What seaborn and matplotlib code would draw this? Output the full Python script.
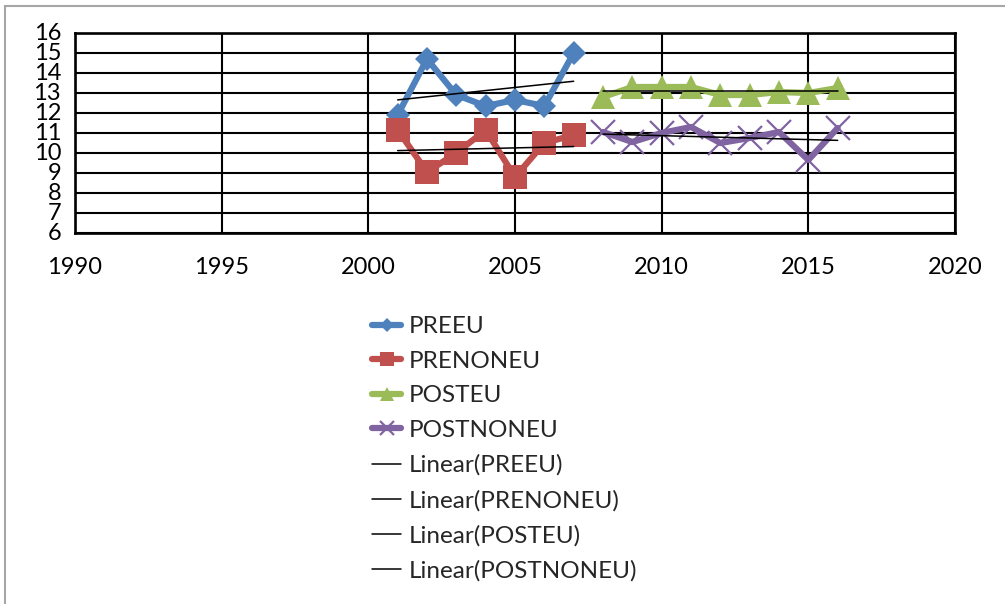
import matplotlib
matplotlib.use("Agg")
import matplotlib.pyplot as plt
import seaborn as sns
import pandas as pd
from matplotlib.lines import Line2D

# Yearly values per group
pre_years = [2001, 2002, 2003, 2004, 2005, 2006, 2007]
post_years = [2008, 2009, 2010, 2011, 2012, 2013, 2014, 2015, 2016]

preeu = [11.9, 14.7, 12.9, 12.35, 12.65, 12.35, 15.0]
prenoneu = [11.15, 9.05, 10.0, 11.15, 8.8, 10.5, 10.9]
posteu = [12.8, 13.3, 13.3, 13.3, 12.9, 12.9, 13.05, 13.0, 13.25]
postnoneu = [11.05, 10.55, 11.0, 11.3, 10.5, 10.75, 11.05, 9.65, 11.25]

series_names = ["PREEU", "PRENONEU", "POSTEU", "POSTNONEU"]
x_ticks = [1990, 1995, 2000, 2005, 2010, 2015, 2020]
y_ticks = list(range(6, 17))

sns.set_theme(style="white")
plt.rcParams["font.family"] = ["Lato", "DejaVu Sans"]

frames = {
    "PREEU": pd.DataFrame({"year": pre_years, "value": preeu}),
    "PRENONEU": pd.DataFrame({"year": pre_years, "value": prenoneu}),
    "POSTEU": pd.DataFrame({"year": post_years, "value": posteu}),
    "POSTNONEU": pd.DataFrame({"year": post_years, "value": postnoneu}),
}

styles = {
    "PREEU": dict(color="#4F81BD", marker="D", markersize=12.5),
    "PRENONEU": dict(color="#C0504D", marker="s", markersize=17),
    "POSTEU": dict(color="#9BBB59", marker="^", markersize=17),
    "POSTNONEU": dict(color="#8064A2", marker="x", markersize=17,
                      markeredgewidth=1.6),
}

fig = plt.figure(figsize=(10.05, 6.04), dpi=100)
ax = fig.add_axes([75 / 1005, 1 - 233 / 604, 880 / 1005, 200 / 604])

for name in series_names:
    st = styles[name]
    sns.lineplot(data=frames[name], x="year", y="value", ax=ax, label=name,
                 color=st["color"], marker=st["marker"],
                 markersize=st["markersize"],
                 markeredgewidth=st.get("markeredgewidth", 0),
                 markeredgecolor=st["color"], linewidth=4.5, zorder=3)

for name in series_names:
    sns.regplot(data=frames[name], x="year", y="value", ax=ax, scatter=False,
                ci=None, truncate=True, label=f"Linear({name})",
                line_kws=dict(color="black", linewidth=1.1, zorder=4))

ax.set_xlim(1990, 2020)
ax.set_ylim(6, 16)
ax.set_xticks(x_ticks)
ax.set_yticks(y_ticks)
ax.set_xlabel("")
ax.set_ylabel("")
ax.grid(True, color="black", linewidth=1.5)
ax.set_axisbelow(True)
for sp in ax.spines.values():
    sp.set_color("black")
    sp.set_linewidth(1.9)
ax.tick_params(axis="both", length=0, labelsize=17, colors="black")
ax.tick_params(axis="x", pad=17)
ax.tick_params(axis="y", pad=10)
for lbl in ax.get_yticklabels():
    lbl.set_verticalalignment("center")

if ax.get_legend():
    ax.get_legend().remove()
handles, labels = ax.get_legend_handles_labels()
fig.legend(handles, labels, loc="upper left",
           bbox_to_anchor=(372 / 1005, 1 - 316 / 604), frameon=False,
           fontsize=17.5, handlelength=1.2, handletextpad=0.3,
           labelspacing=0.56, borderpad=0, borderaxespad=0, markerscale=0.6)

# outer chart border (top and left edges)
fig.add_artist(Line2D([4.5 / 1005, 4.5 / 1005], [0, 1 - 6 / 604],
                      color="#a6a6a6", linewidth=1.5))
fig.add_artist(Line2D([4.5 / 1005, 1], [1 - 6 / 604, 1 - 6 / 604],
                      color="#a6a6a6", linewidth=1.5))

fig.savefig("out.png", dpi=100, facecolor="white")
